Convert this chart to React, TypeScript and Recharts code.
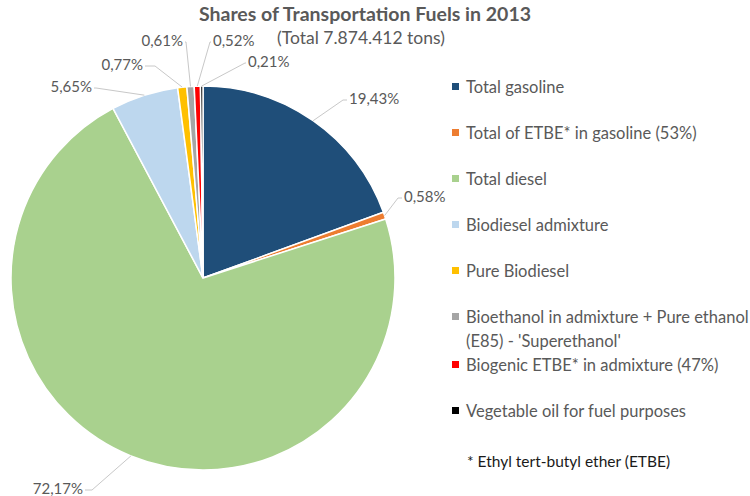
import React from 'react';
import { PieChart, Pie, Cell, Legend } from 'recharts';

const categories = [
  'Total gasoline',
  'Total of ETBE* in gasoline (53%)',
  'Total diesel',
  'Biodiesel admixture',
  'Pure Biodiesel',
  "Bioethanol in admixture + Pure ethanol (E85) - 'Superethanol'",
  'Biogenic ETBE* in admixture (47%)',
  'Vegetable oil for fuel purposes',
];
const shares = [19.43, 0.58, 72.17, 5.65, 0.77, 0.61, 0.52, 0.21];
const colors = ['#1F4E79', '#ED7D31', '#A9D18E', '#BDD7EE', '#FFC000', '#A5A5A5', '#FF0000', '#000000'];
const titleText = 'Shares of Transportation Fuels in 2013';
const subtitleText = '(Total 7.874.412 tons)';
const footnoteText = '* Ethyl tert-butyl ether (ETBE)';

// label elbow offsets relative to pie center, horizontal tail length, and side of text
const labelLayout: [number, number, number, number][] = [
  [140, -178, 1, 4],
  [195, -80, 1, 4],
  [-111, 212, -1, 7],
  [-107, -190, -1, 2],
  [-48, -212, -1, 10],
  [-17, -236, -1, 1],
  [7, -236, 1, 1],
  [42, -215, 1, 1],
];

const data = categories.map((name, i) => ({ name, value: shares[i] }));

const FONT = 'Lato, "Open Sans", sans-serif';
const GREY = '#595959';
const RAD = Math.PI / 180;

const renderLabel = (props: any) => {
  const { cx, cy, midAngle, outerRadius, index, value } = props;
  const sx = cx + outerRadius * Math.cos(-midAngle * RAD);
  const sy = cy + outerRadius * Math.sin(-midAngle * RAD);
  const [dx, dy, side, tail] = labelLayout[index];
  const ex = cx + dx;
  const ey = cy + dy;
  const hx = ex + side * tail;
  return (
    <g key={`lbl-${index}`}>
      <polyline points={`${sx},${sy} ${ex},${ey} ${hx},${ey}`} fill="none" stroke="#C8C8C8" strokeWidth={1} />
      <text
        x={hx + side * 2}
        y={ey - 2}
        textAnchor={side > 0 ? 'start' : 'end'}
        dominantBaseline="central"
        fill={GREY}
        fontFamily={FONT}
        fontSize={15}
      >
        {value.toFixed(2).replace('.', ',') + '%'}
      </text>
    </g>
  );
};

const renderLegend = () => (
  <div style={{ fontFamily: FONT, fontSize: 16.5, color: GREY }}>
    <ul style={{ listStyle: 'none', margin: 0, padding: 0 }}>
      {categories.map((c, i) => (
        <li key={c} style={{ minHeight: 46, lineHeight: '24px', position: 'relative', paddingLeft: 21, width: 284, whiteSpace: 'normal' }}>
          <span
            style={{ position: 'absolute', left: 7, top: 8, width: 7, height: 7, background: colors[i] }}
          />
          {c}
        </li>
      ))}
    </ul>
    <div style={{ paddingLeft: 22, marginTop: 4, lineHeight: '24px', color: '#1a1a1a', fontSize: 15.5 }}>{footnoteText}</div>
  </div>
);

export default function App() {
  return (
    <div style={{ position: 'absolute', left: 0, top: 0, width: 750, height: 496, background: '#fff' }}>
      <div
        style={{
          position: 'absolute', left: 0, top: 1, width: 730, textAlign: 'center', lineHeight: '26px',
          fontFamily: FONT, fontWeight: 700, fontSize: 19.5, color: GREY, whiteSpace: 'nowrap',
        }}
      >
        {titleText}
      </div>
      <div
        style={{
          position: 'absolute', left: 0, top: 26, width: 722, textAlign: 'center', lineHeight: '24px',
          fontFamily: FONT, fontSize: 17.5, color: GREY, whiteSpace: 'nowrap',
        }}
      >
        {subtitleText}
      </div>
      <PieChart width={750} height={496} margin={{ top: 0, right: 0, bottom: 0, left: 0 }} style={{ position: 'absolute', left: 0, top: 0 }}>
        <Pie
          data={data}
          dataKey="value"
          nameKey="name"
          cx={203}
          cy={278}
          outerRadius={192}
          startAngle={90}
          endAngle={-270}
          stroke="#fff"
          strokeWidth={1.5}
          label={renderLabel}
          labelLine={false}
          isAnimationActive={false}
        >
          {data.map((d, i) => (
            <Cell key={d.name} fill={colors[i]} />
          ))}
        </Pie>
        <Legend content={renderLegend} wrapperStyle={{ left: 445, top: 75, width: 305 }} />
      </PieChart>
    </div>
  );
}
